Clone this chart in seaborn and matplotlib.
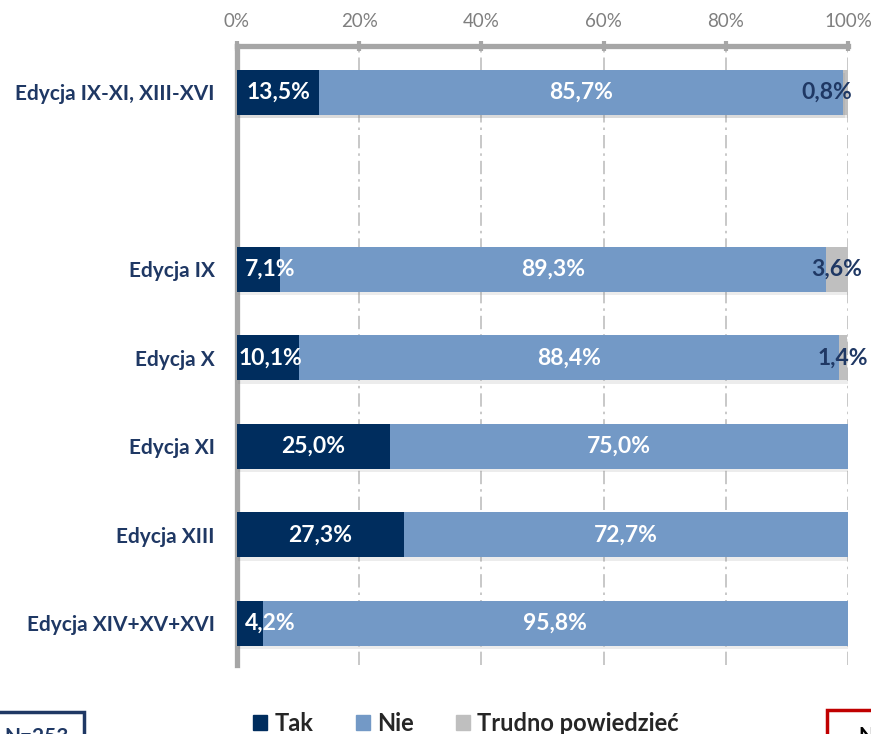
import pandas as pd
import matplotlib
matplotlib.use('Agg')
import matplotlib.pyplot as plt
import matplotlib.patches as mpatches
import matplotlib.patheffects as pe
from matplotlib.ticker import FixedLocator, PercentFormatter
import seaborn as sns

# data
categories = ['Edycja IX-XI, XIII-XVI', 'Edycja IX', 'Edycja X', 'Edycja XI',
              'Edycja XIII', 'Edycja XIV+XV+XVI']
tak = [13.5, 7.1, 10.1, 25.0, 27.3, 4.2]
nie = [85.7, 89.3, 88.4, 75.0, 72.7, 95.8]
trudno = [0.8, 3.6, 1.4, 0.0, 0.0, 0.0]
series_names = ['Tak', 'Nie', 'Trudno powiedzieć']
colors = ['#002D5E', '#7399C6', '#BFBFBF']
x_ticks = [0, 20, 40, 60, 80, 100]

# empty slot between the total and the single editions
order = [categories[0], ' '] + categories[1:]

df = pd.DataFrame({'kategoria': categories, 'tak': tak, 'nie': nie, 'trudno': trudno})
df['c1'] = df['tak']
df['c2'] = df['tak'] + df['nie']
df['c3'] = df['tak'] + df['nie'] + df['trudno']

sns.set_style('white')
plt.rcParams['font.family'] = ['Lato', 'DejaVu Sans']

fig = plt.figure(figsize=(8.71, 7.34), dpi=100)
ax = fig.add_axes([0.272, 0.094, 0.7016, 0.843])

# stacked bars: draw cumulative totals from the back to the front
for col, color in zip(['c3', 'c2', 'c1'], colors[::-1]):
    sns.barplot(data=df, y='kategoria', x=col, order=order, orient='h',
                color=color, width=0.51, saturation=1, ax=ax, zorder=3,
                edgecolor='none', linewidth=0)

# soft shadow under the bars
for bar in ax.patches[:len(order)]:
    bar.set_path_effects([pe.SimplePatchShadow(offset=(1, -2.5), shadow_rgbFace='#808080',
                                               alpha=0.15), pe.Normal()])

ax.set_xlim(0, 100)
ax.set_ylim(6.47, -0.52)
ax.set_xlabel('')
ax.set_ylabel('')

# top percent axis
ax.xaxis.tick_top()
ax.xaxis.set_major_locator(FixedLocator(x_ticks))
ax.xaxis.set_major_formatter(PercentFormatter(decimals=0))
ax.tick_params(axis='x', colors='#A6A6A6', labelcolor='#7F7F7F', labelsize=13.5,
               direction='inout', length=7, width=3, pad=8)
ax.xaxis.grid(True, linestyle=(0, (8, 3, 1.5, 3)), color='#BFBFBF', linewidth=1.2)
ax.set_axisbelow(True)

# category labels, and tick marks between the rows
ax.set_yticks(range(len(order)))
ax.set_yticklabels(order, fontsize=15, fontweight='bold', color='#1F3864')
ax.tick_params(axis='y', length=0, pad=16)
ax.set_yticks([i + 0.5 for i in range(len(order) - 1)] + [6.47], minor=True)
ax.tick_params(axis='y', which='minor', direction='out', length=7, width=3,
               color='#A6A6A6')

for side in ['right', 'bottom']:
    ax.spines[side].set_visible(False)
for side in ['top', 'left']:
    ax.spines[side].set_color('#A6A6A6')
    ax.spines[side].set_linewidth(3.8)

# value labels
ypos = [0, 2, 3, 4, 5, 6]
for y, a, b, c in zip(ypos, tak, nie, trudno):
    ax.text(max(a / 2, 5.5), y, f'{a:.1f}%'.replace('.', ','), ha='center', va='center',
            color='white', fontsize=16.5, fontweight='bold', zorder=5)
    ax.text(a + b / 2, y, f'{b:.1f}%'.replace('.', ','), ha='center', va='center',
            color='white', fontsize=16.5, fontweight='bold', zorder=5)
    if c > 0:
        xc = a + b + c / 2 - (3 if c < 1 else 0)
        ax.text(xc, y, f'{c:.1f}%'.replace('.', ','), ha='center',
                va='center', color='#1F3864', fontsize=16.5, fontweight='bold', zorder=5)

# legend below the chart
handles = [mpatches.Patch(color=c, label=n) for c, n in zip(colors, series_names)]
fig.legend(handles=handles, loc='center', bbox_to_anchor=(0.535, 0.014), ncol=3,
           frameon=False, handlelength=0.6, handleheight=0.6, handletextpad=0.3,
           columnspacing=1.8, prop={'weight': 'bold', 'size': 17})

# fragments of the neighbouring boxes on the page
fig.patches.append(mpatches.Rectangle((-0.02, -0.05), 0.117, 0.08, transform=fig.transFigure,
                                      fill=False, edgecolor='#1F3864', linewidth=2.5))
fig.text(0.005, 0.010, 'N=253', fontsize=15, fontweight='bold', va='top', color='#1F3864')
fig.patches.append(mpatches.Rectangle((0.949, -0.05), 0.1, 0.083, transform=fig.transFigure,
                                      fill=False, edgecolor='#C00000', linewidth=2.5))
fig.text(0.985, 0.011, 'N', fontsize=15, fontweight='bold', va='top', color='black')

fig.savefig('out.png', dpi=100)
